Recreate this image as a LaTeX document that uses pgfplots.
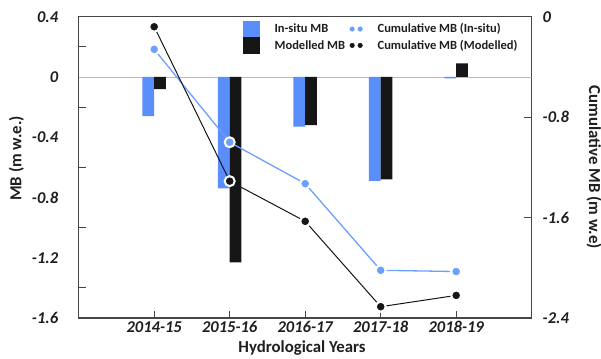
\documentclass[border=0pt]{standalone}
\usepackage{fontspec}
\setmainfont{Carlito}
\usepackage{pgfplots}
\pgfplotsset{compat=1.18}

\definecolor{insitu}{RGB}{90,142,250}
\definecolor{insituline}{RGB}{108,160,252}
\definecolor{model}{RGB}{22,22,22}
\definecolor{frame}{RGB}{70,70,70}
\definecolor{txt}{RGB}{30,30,30}

\begin{document}
\begin{tikzpicture}
\pgfplotsset{
  common/.style={
    width=453pt, height=301.3pt, scale only axis,
    xmin=-1, xmax=5,
    /pgf/number format/assume math mode=true,
    tick label style={font=\fontsize{16.5}{18}\selectfont\bfseries\itshape, text=txt},
    label style={font=\fontsize{16.8}{19}\selectfont\bfseries, text=txt},
  }
}
% annual mass balance (bars, left axis)
\begin{axis}[common,
  ymin=-1.6, ymax=0.4,
  xtick={0,...,4},
  xticklabels={2014-15,2015-16,2016-17,2017-18,2018-19},
  xtick pos=bottom, xtick align=inside,
  major tick length=7pt, minor tick length=7pt,
  ytick={-1.6,-1.2,-0.8,-0.4,0,0.4},
  minor ytick={-1.4,-1.0,-0.6,-0.2,0.2},
  ytick pos=left, ytick align=inside,
  major y tick style={draw=none},
  axis line style={frame, line width=1.2pt},
  tick style={frame, line width=1pt},
  yticklabel style={xshift=-17pt},
  xlabel={Hydrological Years},
  xlabel style={at={(axis description cs:0.493,-0.1145)}, anchor=base},
  ylabel={MB (m w.e.)},
  ylabel style={at={(axis description cs:-0.1375,0.53)}, anchor=center},
]
\addplot[forget plot, draw=gray!55, line width=0.8pt] coordinates {(-1,0) (5,0)};
\addplot[ybar, bar width=0.155, bar shift=-0.0775, fill=insitu, draw=none]
  coordinates {(0,-0.26) (1,-0.74) (2,-0.33) (3,-0.69) (4,-0.01)};
\addplot[ybar, bar width=0.155, bar shift=0.0775, fill=model, draw=none]
  coordinates {(0,-0.08) (1,-1.23) (2,-0.32) (3,-0.68) (4,0.09)};
\end{axis}

% cumulative mass balance (lines, right axis)
\begin{axis}[common,
  ymin=-2.4, ymax=0,
  hide x axis,
  axis line style={draw=none},
  ytick={-2.4,-1.6,-0.8,0},
  ytick pos=right, yticklabel pos=right, ytick align=inside,
  major tick length=8pt,
  tick style={frame, line width=1pt},
  yticklabel style={xshift=7.5pt},
  ylabel={Cumulative MB (m w.e)},
  ylabel style={at={(axis description cs:1.1375,0.5)}, anchor=center, rotate=180},
  clip=false,
  legend columns=2,
  legend cell align=left,
  legend style={at={(axis description cs:0.3627,0.987)}, anchor=north west,
    draw=none, fill=none, inner sep=0pt, row sep=0pt,
    nodes={inner sep=0pt, text=txt},
    font=\fontsize{12.5}{14}\selectfont\bfseries,
    /tikz/every odd column/.append style={column sep=15pt},
    /tikz/every even column/.append style={column sep=4.5pt}},
]
\addlegendimage{legend image code/.code={\fill[insitu] (0pt,-8pt) rectangle (16pt,8pt);}}
\addlegendentry{In-situ MB}
\addlegendimage{legend image code/.code={\fill[insituline] (2.3pt,0pt) circle (2.3pt); \fill[insituline] (10.3pt,0pt) circle (2.3pt);}}
\addlegendentry{Cumulative MB (In-situ)}
\addlegendimage{legend image code/.code={\fill[model] (0pt,-8pt) rectangle (16pt,8pt);}}
\addlegendentry{Modelled MB}
\addlegendimage{legend image code/.code={\fill[model] (2.3pt,0pt) circle (2.3pt); \fill[model] (10.3pt,0pt) circle (2.3pt);}}
\addlegendentry{Cumulative MB (Modelled)}

\addplot[forget plot, insituline, line width=1.3pt, mark=*, mark size=5pt,
  mark options={fill=insituline, draw=white, line width=2pt}]
  coordinates {(0,-0.26) (1,-1.00) (2,-1.33) (3,-2.02) (4,-2.03)};
\addplot[forget plot, model, line width=1pt, mark=*, mark size=5pt,
  mark options={fill=model, draw=white, line width=2pt}]
  coordinates {(0,-0.08) (1,-1.31) (2,-1.63) (3,-2.31) (4,-2.22)};
\end{axis}

\pgfresetboundingbox
\useasboundingbox (-78.7pt,-40pt) rectangle (522.3pt,318pt);
\end{tikzpicture}
\end{document}
